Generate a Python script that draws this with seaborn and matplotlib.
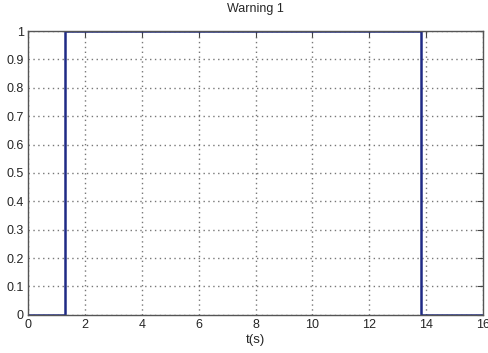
import matplotlib
matplotlib.use("Agg")
import matplotlib.pyplot as plt
import seaborn as sns
import pandas as pd

sns.set_style("white")
plt.rcParams['font.family'] = ['Liberation Sans', 'DejaVu Sans']

t = [0, 1.3, 1.3, 13.8, 13.8, 16]
warning = [0, 0, 1, 1, 0, 0]
xticks = [0, 2, 4, 6, 8, 10, 12, 14, 16]
yticks = [0, 0.1, 0.2, 0.3, 0.4, 0.5, 0.6, 0.7, 0.8, 0.9, 1]
ytick_labels = ['0', '0.1', '0.2', '0.3', '0.4', '0.5', '0.6', '0.7', '0.8', '0.9', '1']

df = pd.DataFrame({'t': t, 'w': warning})

fig = plt.figure(figsize=(4.89, 3.53), dpi=100)
ax = fig.add_axes([0.057, 0.108, 0.931, 0.804])
sns.lineplot(data=df, x='t', y='w', ax=ax, color='#1f2a85', linewidth=1.8, sort=False, estimator=None)
ax.set_xlim(0, 16)
ax.set_ylim(0, 1)
ax.set_xticks(xticks)
ax.set_xticklabels([str(v) for v in xticks])
ax.set_yticks(yticks)
ax.set_yticklabels(ytick_labels)
ax.grid(True, linestyle=(0, (1, 2.5)), color='#777777', linewidth=1.0)
ax.tick_params(direction='in', length=4, labelsize=9, pad=3, color='#444444')
ax.tick_params(top=True, right=True)
for s in ax.spines.values():
    s.set_color('#555555')
    s.set_linewidth(1.0)
ax.set_title('Warning 1', fontsize=9, pad=14)
ax.set_xlabel('t(s)', fontsize=9.5, labelpad=2)
ax.set_ylabel('')
fig.savefig('out.png', dpi=100)
